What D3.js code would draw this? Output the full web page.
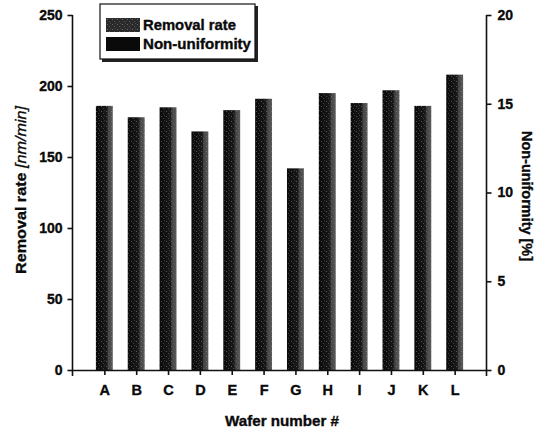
<!DOCTYPE html>
<html>
  <head>
    <meta charset="utf-8">
    <title>Removal rate by wafer</title>
    <script type="text/javascript" src="https://cdn.jsdelivr.net/npm/d3@7"></script>
    <style>
    body {
      margin: 0;
      background: #fff;
    }
    text {
      font-family: "Liberation Sans", Arial, sans-serif;
      font-weight: bold;
      fill: #0a0a0a;
      stroke: #0a0a0a;
      stroke-width: 0.35;
    }
    .axis path, .axis line {
      stroke: #111;
      stroke-width: 1.6;
    }
    .axis text {
      font-size: 14px;
    }
    .xaxis text {
      font-size: 14.5px;
    }
    </style>
  </head>
  <body>
    <div id="chart"></div>
    <script type="text/javascript">

      var wafers = ['A', 'B', 'C', 'D', 'E', 'F', 'G', 'H', 'I', 'J', 'K', 'L'];
      var removalRate = [186, 178, 185, 168, 183, 191, 142, 195, 188, 197, 186, 208];
      var leftTicks = [0, 50, 100, 150, 200, 250];
      var rightTicks = [0, 5, 10, 15, 20];
      var legendLabels = ['Removal rate', 'Non-uniformity'];

      var width = 547,
          height = 431;

      var svg = d3.select('#chart').append('svg')
        .attr('width', width)
        .attr('height', height);

      var x = d3.scalePoint().domain(wafers).range([72.5, 486.5]).padding(1);
      var y = d3.scaleLinear().domain([0, 250]).range([370, 15]);
      var y2 = d3.scaleLinear().domain([0, 20]).range([370, 15]);
      var barW = x.step() * 0.53;

      // bar fill: dark body, lighter right edge, speckle on top
      var defs = svg.append('defs');
      var grad = defs.append('linearGradient')
        .attr('id', 'barGrad')
        .attr('x1', 0).attr('x2', 1).attr('y1', 0).attr('y2', 0);
      grad.append('stop').attr('offset', '0').attr('stop-color', '#0a0a0a');
      grad.append('stop').attr('offset', '0.64').attr('stop-color', '#181818');
      grad.append('stop').attr('offset', '0.74').attr('stop-color', '#444');
      grad.append('stop').attr('offset', '1').attr('stop-color', '#5a5a5a');

      var speck = defs.append('pattern')
        .attr('id', 'speck')
        .attr('patternUnits', 'userSpaceOnUse')
        .attr('width', 5).attr('height', 5);
      speck.append('rect').attr('x', 1).attr('y', 1).attr('width', 1).attr('height', 1).attr('fill', '#8a8a8a');
      speck.append('rect').attr('x', 3).attr('y', 3).attr('width', 1).attr('height', 1).attr('fill', '#6a6a6a');
      speck.append('rect').attr('x', 4).attr('y', 0).attr('width', 1).attr('height', 1).attr('fill', '#555');

      var data = wafers.map(function(w, i) {
        return {wafer: w, rate: removalRate[i]};
      });

      svg.selectAll('.bar')
        .data(data)
        .enter()
        .append('rect')
        .attr('class', 'bar')
        .attr('x', function(d) { return x(d.wafer) - barW / 2; })
        .attr('y', function(d) { return y(d.rate); })
        .attr('width', barW)
        .attr('height', function(d) { return y(0) - y(d.rate); })
        .attr('fill', 'url(#barGrad)');

      svg.selectAll('.speck')
        .data(data)
        .enter()
        .append('rect')
        .attr('class', 'speck')
        .attr('x', function(d) { return x(d.wafer) - barW / 2; })
        .attr('y', function(d) { return y(d.rate); })
        .attr('width', barW)
        .attr('height', function(d) { return y(0) - y(d.rate); })
        .attr('fill', 'url(#speck)')
        .attr('opacity', 0.55);

      // axes
      svg.append('g')
        .attr('class', 'axis xaxis')
        .attr('transform', 'translate(0,' + y(0) + ')')
        .call(d3.axisBottom(x).tickSize(5).tickSizeOuter(0).tickPadding(10));

      var left = svg.append('g')
        .attr('class', 'axis')
        .attr('transform', 'translate(72.5,0)')
        .call(d3.axisLeft(y).tickValues(leftTicks).tickSize(5).tickSizeOuter(0).tickPadding(5));
      left.select('.domain').remove();
      left.append('line')
        .attr('x1', 0).attr('x2', 0)
        .attr('y1', y(250)).attr('y2', y(0) + 6);

      var right = svg.append('g')
        .attr('class', 'axis')
        .attr('transform', 'translate(486.5,0)')
        .call(d3.axisRight(y2).tickValues(rightTicks).tickSize(5).tickSizeOuter(0).tickPadding(6));
      right.select('.domain').remove();
      right.append('line')
        .attr('x1', 0).attr('x2', 0)
        .attr('y1', y2(20)).attr('y2', y2(0) + 6);

      // axis titles
      var lt = svg.append('text')
        .attr('transform', 'translate(26,190) rotate(-90)')
        .attr('text-anchor', 'middle')
        .attr('font-size', 15.5)
        .attr('textLength', 168)
        .attr('lengthAdjust', 'spacingAndGlyphs');
      lt.append('tspan').text('Removal rate ');
      lt.append('tspan').attr('font-style', 'italic').attr('font-weight', 'normal').text('[nm/min]');

      svg.append('text')
        .attr('transform', 'translate(522,196) rotate(90)')
        .attr('text-anchor', 'middle')
        .attr('font-size', 15.5)
        .attr('textLength', 130)
        .attr('lengthAdjust', 'spacingAndGlyphs')
        .text('Non-uniformity [%]');

      svg.append('text')
        .attr('x', 282)
        .attr('y', 426)
        .attr('text-anchor', 'middle')
        .attr('font-size', 15)
        .attr('textLength', 114)
        .attr('lengthAdjust', 'spacingAndGlyphs')
        .text('Wafer number #');

      // legend
      var legend = svg.append('g').attr('transform', 'translate(100,4)');
      legend.append('rect')
        .attr('x', 2).attr('y', 2)
        .attr('width', 156).attr('height', 56)
        .attr('fill', '#222');
      legend.append('rect')
        .attr('width', 155).attr('height', 55)
        .attr('fill', '#fff')
        .attr('stroke', '#111')
        .attr('stroke-width', 1.2);

      var item = legend.selectAll('.legend')
        .data(legendLabels)
        .enter()
        .append('g')
        .attr('class', 'legend')
        .attr('transform', function(d, i) { return 'translate(6,' + (14 + i * 19) + ')'; });
      item.append('rect')
        .attr('width', 34).attr('height', 14)
        .attr('fill', function(d, i) { return i === 0 ? '#2a2a2a' : '#0a0a0a'; });
      item.filter(function(d, i) { return i === 0; })
        .append('rect')
        .attr('width', 34).attr('height', 14)
        .attr('fill', 'url(#speck)')
        .attr('opacity', 0.7);
      item.append('text')
        .attr('x', 37)
        .attr('y', 11.5)
        .attr('font-size', 14)
        .attr('textLength', function(d, i) { return i === 0 ? 93 : 108; })
        .attr('lengthAdjust', 'spacingAndGlyphs')
        .text(function(d) { return d; });
    </script>
  </body>
</html>
